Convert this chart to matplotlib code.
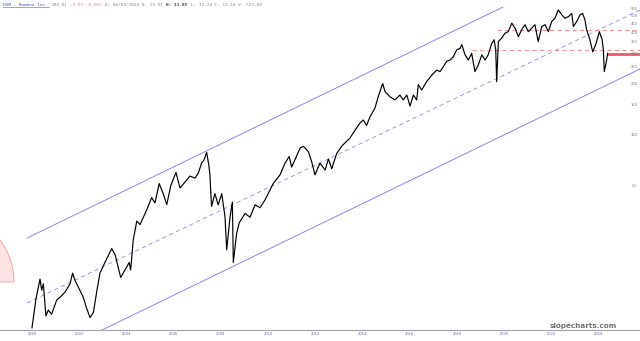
import matplotlib
matplotlib.use("Agg")
import matplotlib.pyplot as plt
from matplotlib.patches import Wedge

# ---- data (decimal year, price) ----
years = [2000.00, 2000.17, 2000.34, 2000.41, 2000.48, 2000.59, 2000.69, 2000.83, 2001.05, 2001.19,
         2001.40, 2001.61, 2001.72, 2001.82, 2002.03, 2002.17, 2002.32, 2002.46, 2002.60, 2002.74,
         2002.88, 2003.09, 2003.38, 2003.52, 2003.76, 2003.94, 2004.12, 2004.18, 2004.29, 2004.44,
         2004.58, 2004.86, 2005.07, 2005.21, 2005.39, 2005.56, 2005.71, 2005.88, 2006.10, 2006.27,
         2006.48, 2006.69, 2006.91, 2007.05, 2007.19, 2007.29, 2007.40, 2007.49, 2007.54, 2007.57,
         2007.61, 2007.75, 2007.89, 2008.04, 2008.18, 2008.25, 2008.39, 2008.49, 2008.53, 2008.67,
         2008.78, 2009.03, 2009.24, 2009.45, 2009.66, 2009.87, 2010.08, 2010.22, 2010.51, 2010.72,
         2010.90, 2011.00, 2011.14, 2011.36, 2011.50, 2011.71, 2011.85, 2011.99, 2012.20, 2012.42,
         2012.56, 2012.70, 2012.91, 2013.12, 2013.26, 2013.47, 2013.69, 2013.90, 2014.04, 2014.18,
         2014.32, 2014.53, 2014.67, 2014.86, 2014.96, 2015.17, 2015.38, 2015.59, 2015.73, 2015.88,
         2016.02, 2016.16, 2016.30, 2016.37, 2016.51, 2016.72, 2016.94, 2017.15, 2017.29, 2017.42,
         2017.57, 2017.71, 2017.85, 2018.00, 2018.14, 2018.21, 2018.35, 2018.49, 2018.63, 2018.77,
         2018.91, 2019.06, 2019.20, 2019.33, 2019.48, 2019.58, 2019.65, 2019.69, 2019.76, 2019.90,
         2020.04, 2020.18, 2020.33, 2020.47, 2020.61, 2020.75, 2020.89, 2021.03, 2021.17, 2021.31,
         2021.45, 2021.60, 2021.74, 2021.88, 2022.02, 2022.16, 2022.30, 2022.45, 2022.58, 2022.73,
         2022.87, 2022.94, 2023.08, 2023.22, 2023.33, 2023.43, 2023.50, 2023.64, 2023.76, 2023.90,
         2024.04, 2024.16, 2024.21, 2024.25, 2024.35, 2024.39]
prices = [7.4, 11.0, 14.3, 12.3, 13.4, 8.7, 9.4, 8.9, 10.8, 11.2,
          12.0, 13.4, 15.5, 14.1, 12.3, 11.2, 9.6, 8.5, 9.1, 12.0,
          15.5, 17.9, 21.6, 19.9, 14.6, 16.2, 17.9, 16.2, 24.3, 31.3,
          29.9, 36.4, 43.0, 40.0, 52.0, 45.4, 39.1, 50.5, 60.5, 49.0,
          53.0, 57.5, 56.0, 60.0, 68.8, 71.5, 79.3, 67.0, 58.5, 47.6,
          38.2, 45.4, 39.0, 45.4, 33.0, 21.2, 33.0, 40.5, 17.9, 26.5,
          30.6, 34.7, 33.0, 39.0, 37.5, 41.6, 47.6, 52.0, 58.5, 68.5,
          75.0, 65.0, 71.5, 84.0, 86.0, 80.0, 70.0, 58.5, 68.5, 62.4,
          72.5, 63.5, 78.0, 86.0, 90.0, 96.0, 107.0, 118.0, 122.7, 114.0,
          128.0, 144.0, 168.0, 201.0, 180.0, 168.0, 161.0, 172.0, 161.0, 172.0,
          148.0, 172.0, 161.0, 198.0, 184.0, 206.0, 225.0, 241.0, 236.0, 251.0,
          271.0, 276.0, 288.0, 317.0, 323.0, 340.0, 296.0, 276.0, 302.0, 236.0,
          258.0, 296.0, 276.0, 296.0, 345.0, 363.0, 317.0, 206.0, 354.0, 371.0,
          396.0, 405.0, 454.0, 424.0, 378.0, 416.0, 445.0, 405.0, 424.0, 445.0,
          354.0, 434.0, 445.0, 405.0, 464.0, 486.0, 543.0, 508.0, 486.0, 496.0,
          518.0, 434.0, 464.0, 508.0, 518.0, 475.0, 416.0, 363.0, 308.0, 345.0,
          405.0, 363.0, 317.0, 236.0, 276.0, 302.0]

# regression channel (start year, start price, end year, end price)
upper_line = [1999.79, 24.9, 2019.96, 565.0]
mid_line = [1999.79, 10.35, 2025.76, 542.0]
lower_line = [2002.97, 7.19, 2025.76, 244.6]

# horizontal levels (price, start year)
red_dashed_levels = [412.0, 316.0]
red_dashed_starts = [2019.70, 2018.63]
last_price_level = 300.0
last_price_start = 2024.36

price_ticks = [550, 500, 450, 400, 350, 300, 250, 200, 150, 100, 50]
year_ticks = [2000, 2002, 2004, 2006, 2008, 2010, 2012, 2014, 2016, 2018, 2020, 2022, 2024]

XMIN, XMAX = 1998.644, 2025.763
YMIN, YMAX = 7.14, 621.0

fig = plt.figure(figsize=(6.4, 3.41), dpi=100)
ax = fig.add_axes([0, 0.0308, 1, 0.9692])
ax.set_yscale("log")
ax.set_xlim(XMIN, XMAX)
ax.set_ylim(YMIN, YMAX)
for s in ["left", "right", "top"]:
    ax.spines[s].set_visible(False)
ax.spines["bottom"].set_color("#a0a0a8")
ax.spines["bottom"].set_linewidth(0.8)
ax.set_xticks([])
ax.set_yticks([])
ax.yaxis.set_minor_locator(matplotlib.ticker.NullLocator())

chan_col = "#8a8ae6"
ax.plot(upper_line[0::2], upper_line[1::2], color=chan_col, lw=0.7)
ax.plot(lower_line[0::2], lower_line[1::2], color=chan_col, lw=0.7)
ax.plot(mid_line[0::2], mid_line[1::2], color=chan_col, lw=0.6, ls=(0, (5, 4)))

for lvl, st in zip(red_dashed_levels, red_dashed_starts):
    ax.plot([st, XMAX], [lvl, lvl], color="#e88080", lw=0.6, ls=(0, (5, 4)))
ax.plot([last_price_start, XMAX], [last_price_level, last_price_level], color="#ee5a6a", lw=2.0,
        solid_capstyle="butt")

ax.plot(years, prices, color="black", lw=0.85)

for p in price_ticks:
    ax.text(634 / 640, p, str(p), transform=ax.get_yaxis_transform(), fontsize=2.6,
            color="#777777", ha="center", va="center")
for y in year_ticks:
    fig.text((32 + 23.6 * (y - 2000)) / 640, 1 - 334 / 341, str(y), fontsize=2.6,
             color="#6a6a90", ha="center", va="center")

# header
mono = "DejaVu Sans Mono"
cw = 2.68 / 640
hy = 1 - 4.5 / 341
x0 = 3 / 640
pieces = [("HUM - Humana Inc.", "#4a5ad0", 0, "normal"),
          ("294.91", "#888888", 18, "normal"),
          ("-3.07 -0.50%", "#e08080", 25, "normal"),
          ("D: 06/04/2024 O: 13.97", "#888888", 38, "normal"),
          ("H: 13.88", "#444444", 61, "bold"),
          ("L: 13.24 C: 13.18 V: 523.60", "#888888", 70, "normal")]
for txt, col, off, w in pieces:
    fig.text(x0 + off * cw, hy, txt, fontsize=3.2, family=mono, color=col,
             ha="left", va="center", fontweight=w)
fig.add_artist(matplotlib.lines.Line2D([x0, x0 + 17 * cw], [hy - 2.5 / 341] * 2,
                                       color="#4a5ad0", lw=0.4))

fig.text(583 / 640, 1 - 325.7 / 341, "slopecharts.com", fontsize=5.2, color="#707070",
         ha="center", va="center", fontweight="bold")

w = Wedge((-0.56, 0.59), 0.70, 0, 37, transform=fig.dpi_scale_trans,
          facecolor="#fde3e3", edgecolor="#f0a0a0", lw=0.6)
fig.add_artist(w)

fig.savefig("out.png", dpi=100)
